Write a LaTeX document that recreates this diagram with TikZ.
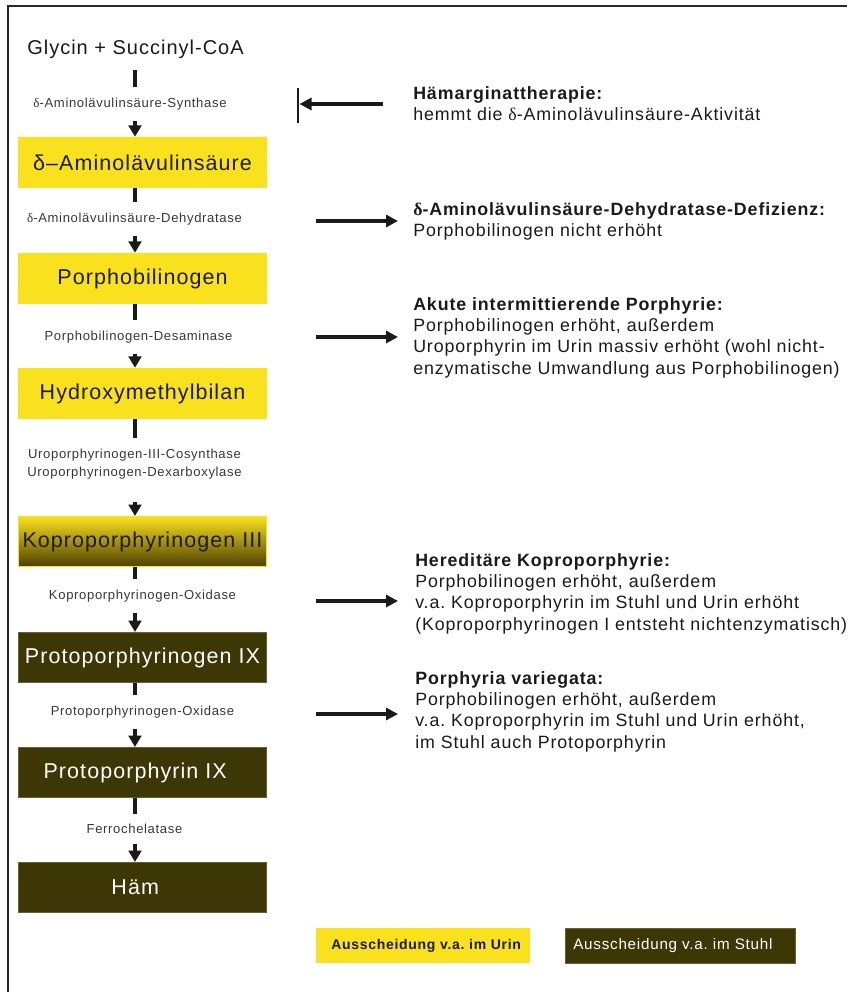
\documentclass[tikz,border=0pt]{standalone}
\usepackage{fontspec}
\setmainfont{Liberation Sans}[LetterSpace=5]
\newfontfamily\grk{Liberation Serif}
\usetikzlibrary{arrows.meta,calc}
\definecolor{hyellow}{RGB}{250,225,30}
\definecolor{holive}{RGB}{61,54,5}
\definecolor{holiveedge}{RGB}{105,96,50}
\definecolor{kdark}{RGB}{78,64,0}
\definecolor{txt}{RGB}{26,26,26}
\definecolor{enz}{RGB}{55,55,55}
\frenchspacing
\begin{document}
\begin{tikzpicture}[x=0.75pt,y=-0.75pt,
  ybox/.style={fill=hyellow, minimum width=186.75pt, minimum height=38.25pt, inner sep=0pt, text=txt, font=\fontsize{16.1}{19}\selectfont},
  kbox/.style={top color=hyellow, middle color=hyellow, bottom color=kdark, draw=hyellow, line width=0.6pt, minimum width=186.2pt, minimum height=37.7pt, inner sep=0pt, text=txt, font=\fontsize{16.1}{19}\selectfont},
  dbox/.style={fill=holive, draw=holiveedge, line width=0.6pt, minimum width=186.2pt, minimum height=37.7pt, inner sep=0pt, text=white, font=\fontsize{16.1}{19}\selectfont},
  enzlabel/.style={text=enz, font=\fontsize{9.8}{13.5}\selectfont, inner xsep=2pt, inner ysep=7.8pt, align=center},
  flow/.style={line width=2.5pt, draw=txt},
  flowarr/.style={flow, -{Triangle[width=9.5pt,length=8.5pt]}},
  sidearr/.style={line width=2.3pt, draw=txt, -{Triangle[width=9pt,length=9pt]}},
  note/.style={anchor=north west, align=left, inner sep=0pt, text=txt, font=\fontsize{13.35}{16}\selectfont},
  frame/.style={line width=1.4pt, draw={rgb,255:red,40;green,40;blue,40}},
  legbox/.style={anchor=west, minimum height=26.25pt, inner ysep=0pt, align=left},
]
\useasboundingbox (0,0) rectangle (847,992);
\draw[frame] (8,992) -- (8,6) -- (847,6);

\coordinate (axis) at (135,0);

% pathway nodes
\node[font=\fontsize{15}{18}\selectfont, text=txt, inner sep=0pt] (glycin) at (135.5,49.5) {Glycin + Succinyl-CoA};
\node[enzlabel] (e1) at (130,104) {{\grk δ}-Aminolävulinsäure-Synthase};
\node[ybox] (ala) at (142.5,162.5) {δ–Aminolävulinsäure};
\node[enzlabel] (e2) at (134.5,219) {{\grk δ}-Aminolävulinsäure-Dehydratase};
\node[ybox] (pbg) at (142.5,278.5) {Porphobilinogen};
\node[enzlabel] (e3) at (138.5,337) {Porphobilinogen-Desaminase};
\node[ybox] (hmb) at (142.5,393.5) {Hydroxymethylbilan};
\node[enzlabel] (e4) at (134.5,464) {Uroporphyrinogen-III-Cosynthase\\Uroporphyrinogen-Dexarboxylase};
\node[kbox] (kop) at (142.5,541.5) {Koproporphyrinogen III};
\node[enzlabel] (e5) at (142.5,596) {Koproporphyrinogen-Oxidase};
\node[dbox] (ppg) at (142.5,657.5) {Protoporphyrinogen IX};
\node[enzlabel] (e6) at (142.5,712) {Protoporphyrinogen-Oxidase};
\node[dbox] (pp) at (142.5,772.5) {\hspace*{-11pt}Protoporphyrin IX};
\node[enzlabel] (e7) at (134.5,829) {Ferrochelatase};
\node[dbox] (haem) at (142.5,887.5) {\hspace*{-11pt}Häm};

% pathway connectors
\draw[flow, shorten <=8pt] (glycin.south -| axis) -- (e1.north -| axis);
\draw[flowarr] (e1.south -| axis) -- (ala.north -| axis);
\draw[flow] (ala.south -| axis) -- (e2.north -| axis);
\draw[flowarr] (e2.south -| axis) -- (pbg.north -| axis);
\draw[flow] (pbg.south -| axis) -- (e3.north -| axis);
\draw[flowarr] (e3.south -| axis) -- (hmb.north -| axis);
\draw[flow] (hmb.south -| axis) -- (e4.north -| axis);
\draw[flowarr, shorten <=9pt] (e4.south -| axis) -- (kop.north -| axis);
\draw[flow] (kop.south -| axis) -- (e5.north -| axis);
\draw[flowarr] (e5.south -| axis) -- (ppg.north -| axis);
\draw[flow] (ppg.south -| axis) -- (e6.north -| axis);
\draw[flowarr] (e6.south -| axis) -- (pp.north -| axis);
\draw[flow] (pp.south -| axis) -- (e7.north -| axis);
\draw[flowarr] (e7.south -| axis) -- (haem.north -| axis);

% notes
\node[note] (n1) at (413,86) {\textbf{Hämarginattherapie:}\\hemmt die {\grk δ}-Aminolävulinsäure-Aktivität};
\node[note] (n2) at (413,202) {\textbf{{\grk δ}-Aminolävulinsäure-Dehydratase-Defizienz:}\\Porphobilinogen nicht erhöht};
\node[note] (n3) at (413,297) {\textbf{Akute intermittierende Porphyrie:}\\Porphobilinogen erhöht, außerdem\\Uroporphyrin im Urin massiv erhöht (wohl nicht-\\enzymatische Umwandlung aus Porphobilinogen)};
\node[note] (n4) at (415,553) {\textbf{Hereditäre Koproporphyrie:}\\Porphobilinogen erhöht, außerdem\\v.a. Koproporphyrin im Stuhl und Urin erhöht\\(Koproporphyrinogen I entsteht nichtenzymatisch)};
\node[note] (n5) at (415,671) {\textbf{Porphyria variegata:}\\Porphobilinogen erhöht, außerdem\\v.a. Koproporphyrin im Stuhl und Urin erhöht,\\im Stuhl auch Protoporphyrin};

% side arrows
\coordinate (barT) at (298,88);
\coordinate (barB) at (298,123);
\coordinate (i1s) at (383,104);
\coordinate (i1e) at (299.5,104);
\draw[line width=1.2pt, draw=txt] (barT) -- (barB);
\draw[sidearr] (i1s) -- (i1e);
\coordinate (a2s) at (316,221);
\coordinate (a2e) at (398,221);
\draw[sidearr] (a2s) -- (a2e);
\coordinate (a3s) at (316,337);
\coordinate (a3e) at (398,337);
\draw[sidearr] (a3s) -- (a3e);
\coordinate (a4s) at (316,601);
\coordinate (a4e) at (398,601);
\draw[sidearr] (a4s) -- (a4e);
\coordinate (a5s) at (316,714);
\coordinate (a5e) at (398,714);
\draw[sidearr] (a5s) -- (a5e);

% legend
\node[legbox, fill=hyellow, inner xsep=11.25pt, text width=138pt, text=txt, font=\bfseries\fontsize{10.5}{12}\selectfont] (legU) at (316,945.5) {\mbox{Ausscheidung v.a. im Urin}};
\node[legbox, fill=holive, draw=holiveedge, line width=0.5pt, inner xsep=6pt, text width=160.5pt, text=white, font=\fontsize{11.4}{13}\selectfont] (legS) at (565,945.5) {Ausscheidung v.a. im Stuhl};
\end{tikzpicture}
\end{document}
